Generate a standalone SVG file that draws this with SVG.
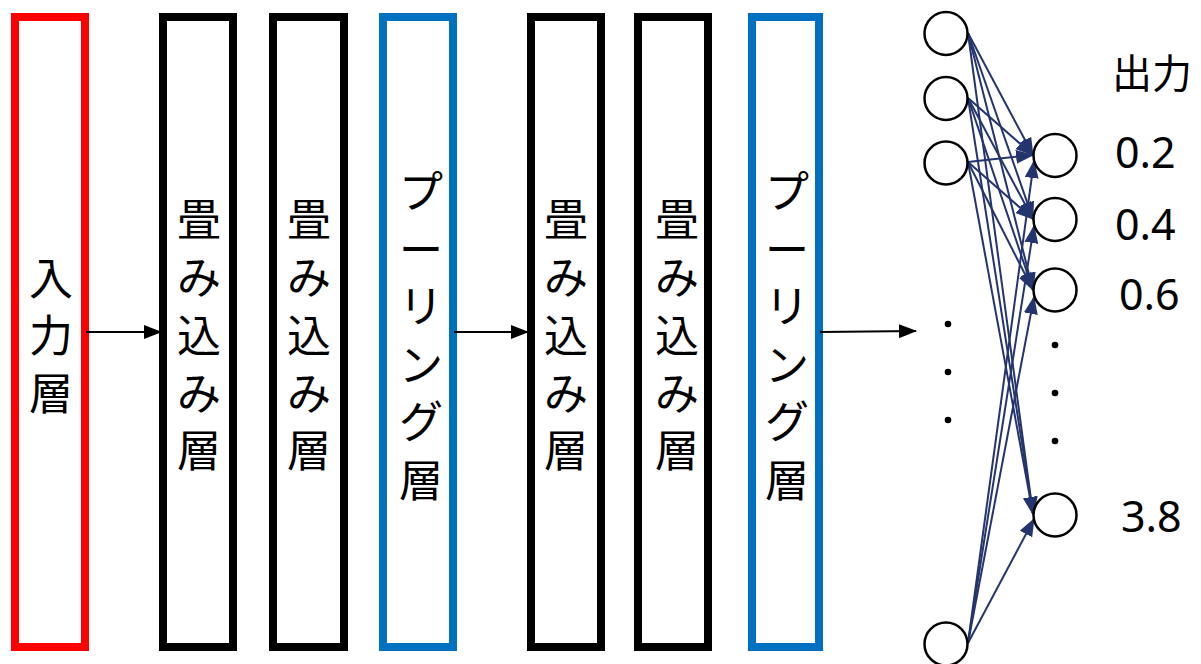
<svg xmlns="http://www.w3.org/2000/svg" width="1201" height="664" viewBox="0 0 1201 664">
<style>
.layer{fill:#fff;stroke-width:8}
.red{stroke:#ff0000}
.blk{stroke:#000}
.blue{stroke:#0070c0}
.lbl{font-family:"Noto Sans CJK JP","Noto Sans",sans-serif;font-size:44px;fill:#000;text-anchor:middle}
.num{font-family:"Noto Sans","Open Sans",sans-serif;font-size:43px;fill:#000}
.node{fill:#fff;stroke:#000;stroke-width:2.5}
.flow{stroke:#000;stroke-width:2.2;fill:none}
.edge{stroke:#24346e;stroke-width:2;fill:none}
.dot{fill:#000}
</style>
<defs>
<marker id="ah" markerWidth="18" markerHeight="14" refX="17" refY="7" orient="auto" markerUnits="userSpaceOnUse">
<path d="M0,0 L18,7 L0,14 Z" fill="#000"/>
</marker>
<marker id="ahb" markerWidth="18" markerHeight="14" refX="17" refY="7" orient="auto" markerUnits="userSpaceOnUse">
<path d="M0,0 L18,7 L0,14 Z" fill="#24346e"/>
</marker>
</defs>

<g id="input-layer">
<rect class="layer red" x="15" y="17" width="70" height="630"/>
<text class="lbl"><tspan x="51" y="295">入</tspan><tspan x="51" y="352">力</tspan><tspan x="51" y="410">層</tspan></text>
</g>
<g id="conv1">
<rect class="layer blk" x="163" y="17" width="70" height="630"/>
<text class="lbl"><tspan x="199" y="236">畳</tspan><tspan x="199" y="294">み</tspan><tspan x="199" y="352">込</tspan><tspan x="199" y="410">み</tspan><tspan x="199" y="467">層</tspan></text>
</g>
<g id="conv2">
<rect class="layer blk" x="273" y="17" width="71" height="630"/>
<text class="lbl"><tspan x="309" y="236">畳</tspan><tspan x="309" y="294">み</tspan><tspan x="309" y="352">込</tspan><tspan x="309" y="410">み</tspan><tspan x="309" y="467">層</tspan></text>
</g>
<g id="pool1">
<rect class="layer blue" x="383" y="17" width="70" height="630"/>
<text class="lbl"><tspan x="421" y="208">プ</tspan><tspan x="421" y="266">ー</tspan><tspan x="421" y="323">リ</tspan><tspan x="421" y="381">ン</tspan><tspan x="421" y="438">グ</tspan><tspan x="421" y="497">層</tspan></text>
</g>
<g id="conv3">
<rect class="layer blk" x="531" y="17" width="70" height="630"/>
<text class="lbl"><tspan x="566" y="236">畳</tspan><tspan x="566" y="294">み</tspan><tspan x="566" y="352">込</tspan><tspan x="566" y="410">み</tspan><tspan x="566" y="467">層</tspan></text>
</g>
<g id="conv4">
<rect class="layer blk" x="638" y="17" width="70" height="630"/>
<text class="lbl"><tspan x="677" y="236">畳</tspan><tspan x="677" y="294">み</tspan><tspan x="677" y="352">込</tspan><tspan x="677" y="410">み</tspan><tspan x="677" y="467">層</tspan></text>
</g>
<g id="pool2">
<rect class="layer blue" x="752" y="17" width="67" height="630"/>
<text class="lbl"><tspan x="787" y="208">プ</tspan><tspan x="787" y="266">ー</tspan><tspan x="787" y="323">リ</tspan><tspan x="787" y="381">ン</tspan><tspan x="787" y="438">グ</tspan><tspan x="787" y="497">層</tspan></text>
</g>

<g id="connectors">
<line class="flow" x1="86" y1="332" x2="161" y2="332" marker-end="url(#ah)"/>
<line class="flow" x1="454" y1="332" x2="528" y2="332" marker-end="url(#ah)"/>
<line class="flow" x1="820" y1="332" x2="916" y2="331" marker-end="url(#ah)"/>

<line class="edge" x1="968" y1="33" x2="1033" y2="155" marker-end="url(#ahb)"/>
<line class="edge" x1="968" y1="33" x2="1033" y2="219" marker-end="url(#ahb)"/>
<line class="edge" x1="968" y1="33" x2="1033" y2="290" marker-end="url(#ahb)"/>
<line class="edge" x1="968" y1="33" x2="1033" y2="514" marker-end="url(#ahb)"/>
<line class="edge" x1="968" y1="98" x2="1033" y2="155" marker-end="url(#ahb)"/>
<line class="edge" x1="968" y1="98" x2="1033" y2="219" marker-end="url(#ahb)"/>
<line class="edge" x1="968" y1="98" x2="1033" y2="290" marker-end="url(#ahb)"/>
<line class="edge" x1="968" y1="98" x2="1033" y2="514" marker-end="url(#ahb)"/>
<line class="edge" x1="968" y1="162" x2="1033" y2="155" marker-end="url(#ahb)"/>
<line class="edge" x1="968" y1="162" x2="1033" y2="219" marker-end="url(#ahb)"/>
<line class="edge" x1="968" y1="162" x2="1033" y2="290" marker-end="url(#ahb)"/>
<line class="edge" x1="968" y1="162" x2="1033" y2="514" marker-end="url(#ahb)"/>
<line class="edge" x1="968" y1="643" x2="1034" y2="161" marker-end="url(#ahb)"/>
<line class="edge" x1="968" y1="643" x2="1034" y2="226" marker-end="url(#ahb)"/>
<line class="edge" x1="968" y1="643" x2="1034" y2="297" marker-end="url(#ahb)"/>
<line class="edge" x1="968" y1="643" x2="1034" y2="519" marker-end="url(#ahb)"/>
</g>

<g id="in1"><circle class="node" cx="946" cy="33.5" r="21.5"/></g>
<g id="in2"><circle class="node" cx="946" cy="98.5" r="21.5"/></g>
<g id="in3"><circle class="node" cx="946" cy="163" r="21.5"/></g>
<g id="in4"><circle class="node" cx="946" cy="644" r="21.5"/></g>
<g id="out1"><circle class="node" cx="1055" cy="155.5" r="21.5"/></g>
<g id="out2"><circle class="node" cx="1055" cy="219.5" r="21.5"/></g>
<g id="out3"><circle class="node" cx="1055" cy="290" r="21.5"/></g>
<g id="out4"><circle class="node" cx="1055" cy="515" r="21.5"/></g>

<g id="ellipsis">
<circle class="dot" cx="948" cy="324" r="3.3"/>
<circle class="dot" cx="948" cy="372" r="3.3"/>
<circle class="dot" cx="948" cy="420" r="3.3"/>
<circle class="dot" cx="1055" cy="345" r="3.3"/>
<circle class="dot" cx="1055" cy="393" r="3.3"/>
<circle class="dot" cx="1055" cy="441" r="3.3"/>
</g>

<g id="outputs">
<text x="1152" y="88" style="font-family:'Noto Sans CJK JP',sans-serif;font-size:40px;text-anchor:middle">出力</text>
<text class="num" x="1115" y="168">0.2</text>
<text class="num" x="1115" y="240">0.4</text>
<text class="num" x="1119" y="310">0.6</text>
<text class="num" x="1121" y="532">3.8</text>
</g>
</svg>
